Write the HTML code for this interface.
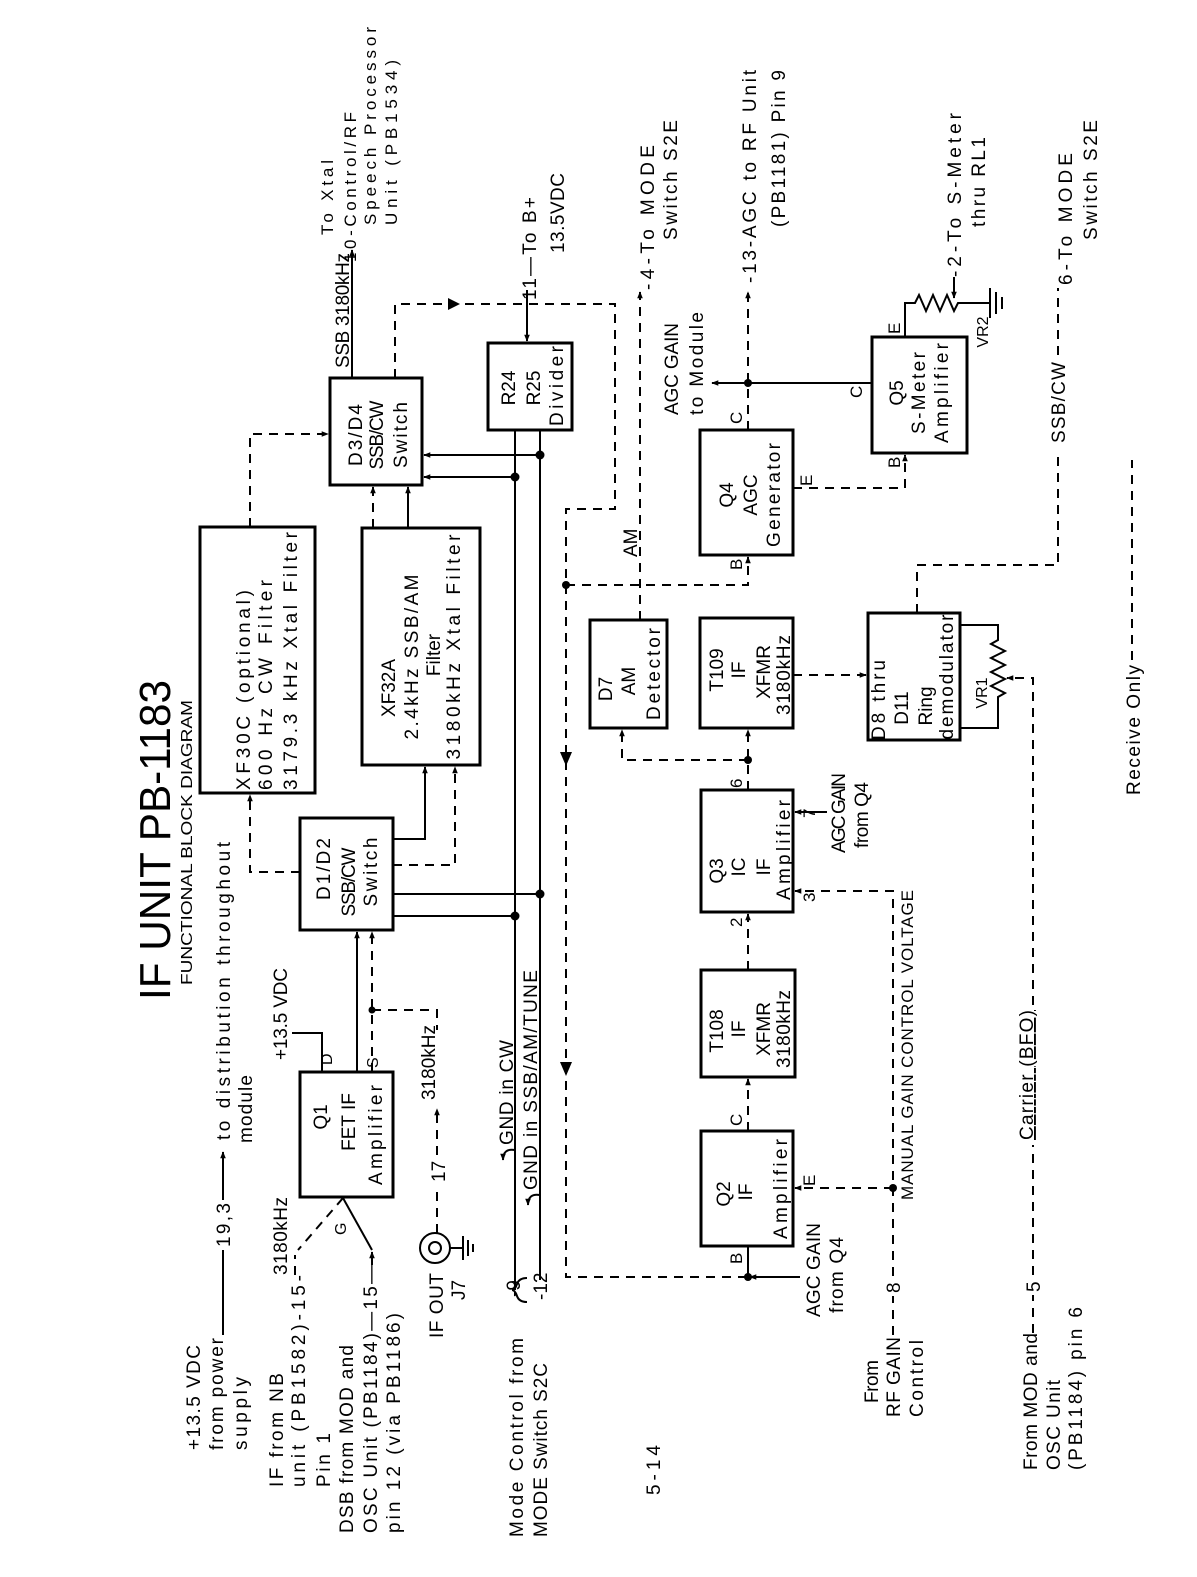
<!DOCTYPE html>
<html><head><meta charset="utf-8"><style>
html,body{margin:0;padding:0;background:#fff;}
svg{display:block;}
text{font-family:"Liberation Sans",sans-serif;font-size:19px;fill:#000;}
</style></head><body>
<svg width="1197" height="1577" viewBox="0 0 1197 1577" xmlns="http://www.w3.org/2000/svg">
<defs>
<marker id="a" viewBox="0 0 10 10" refX="9" refY="5" markerWidth="7" markerHeight="7" orient="auto" markerUnits="userSpaceOnUse"><path d="M0,1 L10,5 L0,9 Z" fill="#000"/></marker>
</defs>
<rect width="1197" height="1577" fill="#fff"/>
<g fill="none" stroke="#000" stroke-width="3">
<rect x="200" y="527" width="115" height="266"/>
<rect x="300" y="818" width="93" height="112"/>
<rect x="362" y="528" width="118" height="237"/>
<rect x="330" y="378" width="92" height="107"/>
<rect x="488" y="343" width="84" height="87"/>
<rect x="300" y="1072" width="93" height="125"/>
<rect x="701" y="1131" width="92" height="115"/>
<rect x="701" y="970" width="94" height="107"/>
<rect x="701" y="790" width="92" height="122"/>
<rect x="700" y="618" width="93" height="110"/>
<rect x="590" y="620" width="77" height="108"/>
<rect x="700" y="430" width="93" height="125"/>
<rect x="868" y="613" width="92" height="127"/>
<rect x="872" y="337" width="95" height="116"/>
</g>
<g fill="none" stroke="#000" stroke-width="2">
<path d="M223 1335 V1250"/><path d="M223 1200 V1152" marker-end="url(#a)"/>
<path d="M292 1033 H322 V1072"/>
<path d="M357 1072 V932" marker-end="url(#a)"/>
<path d="M343 1198 L372 1250"/><path d="M372 1265 V1252" marker-end="url(#a)"/>
<path d="M393 839 H425 V767" marker-end="url(#a)"/>
<path d="M393 894 H540"/><path d="M393 916 H515"/>
<path d="M515 430 V1280"/><path d="M540 430 V1270"/>
<path d="M408 528 V487" marker-end="url(#a)"/>
<path d="M352 378 V250" marker-end="url(#a)"/>
<path d="M527 290 V341" marker-end="url(#a)"/>
<path d="M540 455 H424" marker-end="url(#a)"/>
<path d="M515 477 H424" marker-end="url(#a)"/>
<path d="M872 383 H712" marker-end="url(#a)"/>
<path d="M905 337 V303 H915 l4 -8 l7 16 l7 -16 l7 16 l7 -16 l7 16 l4 -8 H990"/>
<path d="M990 288 V318 M996 292 V314 M1002 297 V309"/>
<path d="M954 277 V298" marker-end="url(#a)"/>
<path d="M960 625 H998 V640 l-7 4 l14 7 l-14 7 l14 7 l-14 7 l14 7 l-14 7 l14 7 l-7 4 V728 H960"/>
<path d="M827 812 H795" marker-end="url(#a)"/>
<path d="M800 1277 H750" marker-end="url(#a)"/><path d="M748 1277 V1246"/>
<circle cx="435" cy="1248" r="15"/><circle cx="435" cy="1248" r="6"/>
<path d="M450 1248 H463 M463 1236 V1260 M468 1240 V1256 M473 1244 V1252"/>
<path d="M515 1280 V1290 M540 1270 V1280"/>
<path d="M527 1302 q-8 0 -10 -6 q-2 -6 -5 -6 q3 0 5 -6 q2 -6 10 -6"/>
<path d="M515 1150 q-12 -2 -12 10" marker-end="url(#a)"/>
<path d="M540 1195 q-12 -2 -12 10" marker-end="url(#a)"/>
</g>
<g fill="none" stroke="#000" stroke-width="2" stroke-dasharray="9,7">
<path d="M343 1198 L298 1250"/><path d="M295 1275 V1255"/>
<path d="M372 1072 V932" marker-end="url(#a)"/>
<path d="M372 1010 H437 V1030"/>
<path d="M437 1233 V1185"/><path d="M437 1155 V1109" marker-end="url(#a)"/>
<path d="M393 865 H455 V767" marker-end="url(#a)"/>
<path d="M300 872 H250 V795" marker-end="url(#a)"/>
<path d="M373 528 V487" marker-end="url(#a)"/>
<path d="M250 527 V434 H328" marker-end="url(#a)"/>
<path d="M395 378 V304 H615 V509 H566 V1277 H748"/>
<path d="M640 620 V292" marker-end="url(#a)"/>
<path d="M566 585 H748 V557" marker-end="url(#a)"/>
<path d="M748 430 V292" marker-end="url(#a)"/>
<path d="M793 488 H905 V455" marker-end="url(#a)"/>
<path d="M748 790 V730" marker-end="url(#a)"/>
<path d="M748 760 H622 V730" marker-end="url(#a)"/>
<path d="M793 675 H866" marker-end="url(#a)"/>
<path d="M917 613 V565 H1058 V450"/><path d="M1058 355 V288"/>
<path d="M1132 660 V460"/>
<path d="M1033 1333 V1295"/><path d="M1033 1275 V1145"/><path d="M1033 1005 V678 H1007" marker-end="url(#a)"/>
<path d="M893 1335 V1296"/><path d="M893 1276 V891 H795" marker-end="url(#a)"/>
<path d="M893 1188 H795" marker-end="url(#a)"/>
<path d="M748 1131 V1079" marker-end="url(#a)"/>
<path d="M748 970 V914" marker-end="url(#a)"/>
</g>
<g fill="#000">
<circle cx="372" cy="1010" r="3.5"/><circle cx="540" cy="894" r="4.5"/><circle cx="515" cy="916" r="4.5"/>
<circle cx="540" cy="455" r="4.5"/><circle cx="515" cy="477" r="4.5"/><circle cx="566" cy="585" r="4"/>
<circle cx="748" cy="383" r="4"/><circle cx="748" cy="760" r="4"/><circle cx="748" cy="1277" r="4"/>
<circle cx="893" cy="1188" r="4"/>
<path d="M448 298 L460 304 L448 310Z"/><path d="M560 752 L566 766 L572 752Z"/><path d="M560 1062 L566 1076 L572 1062Z"/>
</g>
<g>
<text transform="translate(170,1000) rotate(-90)" style="font-size:44px" textLength="320" lengthAdjust="spacingAndGlyphs">IF UNIT PB-1183</text>
<text transform="translate(192,985) rotate(-90)" style="font-size:16px" textLength="285" lengthAdjust="spacingAndGlyphs">FUNCTIONAL BLOCK DIAGRAM</text>

<text transform="translate(200,1450) rotate(-90)" textLength="105">+13.5 VDC</text>
<text transform="translate(223,1450) rotate(-90)" textLength="112">from power</text>
<text transform="translate(230,1247) rotate(-90)" textLength="44">19,3</text>
<text transform="translate(230,1140) rotate(-90)" textLength="298">to distribution throughout</text>
<text transform="translate(252,1143) rotate(-90)" textLength="68">module</text>
<text transform="translate(247,1450) rotate(-90)" textLength="73">supply</text>
<text transform="translate(287,1060) rotate(-90)" textLength="92">+13.5 VDC</text>
<text transform="translate(283,1487) rotate(-90)" textLength="114">IF from NB</text>
<text transform="translate(287,1275) rotate(-90)" textLength="78">3180kHz</text>
<text transform="translate(305,1487) rotate(-90)" textLength="212">unit (PB1582)-15-</text>
<text transform="translate(330,1487) rotate(-90)" textLength="54">Pin 1</text>
<text transform="translate(353,1533) rotate(-90)" textLength="188">DSB from MOD and</text>
<text transform="translate(377,1533) rotate(-90)" textLength="268">OSC Unit (PB1184)—15—</text>
<text transform="translate(400,1533) rotate(-90)" textLength="220">pin 12 (via PB1186)</text>
<text transform="translate(443,1338) rotate(-90)" textLength="65">IF OUT</text>
<text transform="translate(465,1300) rotate(-90)">J7</text>
<text transform="translate(445,1182) rotate(-90)">17</text>
<text transform="translate(435,1100) rotate(-90)" textLength="75">3180kHz</text>
<text transform="translate(523,1537) rotate(-90)" textLength="199">Mode Control from</text>
<text transform="translate(547,1537) rotate(-90)" textLength="174">MODE Switch S2C</text>
<text transform="translate(520,1297) rotate(-90)">-9</text>
<text transform="translate(547,1300) rotate(-90)">-12</text>
<text transform="translate(513,1145) rotate(-90)" textLength="105">GND in CW</text>
<text transform="translate(537,1190) rotate(-90)" textLength="220">GND in SSB/AM/TUNE</text>
<text transform="translate(660,1495) rotate(-90)" textLength="50">5-14</text>
<text transform="translate(332,1065) rotate(-90)" style="font-size:16px">D</text>
<text transform="translate(378,1068) rotate(-90)" style="font-size:16px">S</text>
<text transform="translate(346,1235) rotate(-90)" style="font-size:16px">G</text>

<text transform="translate(327,1117) rotate(-90)" text-anchor="middle">Q1</text>
<text transform="translate(355,1122) rotate(-90)" text-anchor="middle">FET IF</text>
<text transform="translate(382,1135) rotate(-90)" text-anchor="middle" textLength="100">Amplifier</text>

<text transform="translate(250,790) rotate(-90)" textLength="200">XF30C (optional)</text>
<text transform="translate(272,790) rotate(-90)" textLength="210">600 Hz CW Filter</text>
<text transform="translate(297,790) rotate(-90)" textLength="258">3179.3 kHz Xtal Filter</text>
<text transform="translate(395,688) rotate(-90)" text-anchor="middle">XF32A</text>
<text transform="translate(418,657) rotate(-90)" text-anchor="middle" textLength="165">2.4kHz SSB/AM</text>
<text transform="translate(440,655) rotate(-90)" text-anchor="middle">Filter</text>
<text transform="translate(460,647) rotate(-90)" text-anchor="middle" textLength="225">3180kHz Xtal Filter</text>
<text transform="translate(330,869) rotate(-90)" text-anchor="middle" textLength="62">D1/D2</text>
<text transform="translate(355,882) rotate(-90)" text-anchor="middle" textLength="69">SSB/CW</text>
<text transform="translate(377,872) rotate(-90)" text-anchor="middle" textLength="69">Switch</text>
<text transform="translate(362,435) rotate(-90)" text-anchor="middle" textLength="62">D3/D4</text>
<text transform="translate(383,435) rotate(-90)" text-anchor="middle" textLength="69">SSB/CW</text>
<text transform="translate(407,435) rotate(-90)" text-anchor="middle" textLength="66">Switch</text>
<text transform="translate(515,388) rotate(-90)" text-anchor="middle">R24</text>
<text transform="translate(540,388) rotate(-90)" text-anchor="middle">R25</text>
<text transform="translate(563,386) rotate(-90)" text-anchor="middle" textLength="80">Divider</text>

<text transform="translate(349,368) rotate(-90)" textLength="115">SSB 3180kHz</text>
<text transform="translate(333,235) rotate(-90)" textLength="75" style="font-size:17px">To Xtal</text>
<text transform="translate(356,262) rotate(-90)" textLength="150" style="font-size:17px">10-Control/RF</text>
<text transform="translate(376,225) rotate(-90)" textLength="198" style="font-size:17px">Speech Processor</text>
<text transform="translate(397,225) rotate(-90)" textLength="165" style="font-size:17px">Unit (PB1534)</text>
<text transform="translate(536,300) rotate(-90)" textLength="103">11—To B+</text>
<text transform="translate(564,253) rotate(-90)" textLength="80">13.5VDC</text>
<text transform="translate(654,290) rotate(-90)" textLength="145">-4-To MODE</text>
<text transform="translate(677,240) rotate(-90)" textLength="120">Switch S2E</text>
<text transform="translate(637,557) rotate(-90)">AM</text>
<text transform="translate(678,415) rotate(-90)" textLength="92">AGC GAIN</text>
<text transform="translate(703,415) rotate(-90)" textLength="103">to Module</text>
<text transform="translate(756,283) rotate(-90)" textLength="213">-13-AGC to RF Unit</text>
<text transform="translate(785,227) rotate(-90)" textLength="157">(PB1181) Pin 9</text>
<text transform="translate(961,277) rotate(-90)" textLength="164">-2-To S-Meter</text>
<text transform="translate(985,227) rotate(-90)" textLength="90">thru RL1</text>
<text transform="translate(1065,443) rotate(-90)" textLength="81">SSB/CW</text>
<text transform="translate(1072,285) rotate(-90)" textLength="132">6-To MODE</text>
<text transform="translate(1097,240) rotate(-90)" textLength="120">Switch S2E</text>
<text transform="translate(1140,795) rotate(-90)" textLength="130">Receive Only</text>

<text transform="translate(733,495) rotate(-90)" text-anchor="middle">Q4</text>
<text transform="translate(757,495) rotate(-90)" text-anchor="middle">AGC</text>
<text transform="translate(780,495) rotate(-90)" text-anchor="middle" textLength="104">Generator</text>
<text transform="translate(903,393) rotate(-90)" text-anchor="middle">Q5</text>
<text transform="translate(925,393) rotate(-90)" text-anchor="middle" textLength="82">S-Meter</text>
<text transform="translate(948,393) rotate(-90)" text-anchor="middle" textLength="100">Amplifier</text>
<text transform="translate(612,689) rotate(-90)" text-anchor="middle">D7</text>
<text transform="translate(635,681) rotate(-90)" text-anchor="middle">AM</text>
<text transform="translate(660,674) rotate(-90)" text-anchor="middle" textLength="92">Detector</text>
<text transform="translate(723,670) rotate(-90)" text-anchor="middle">T109</text>
<text transform="translate(745,670) rotate(-90)" text-anchor="middle">IF</text>
<text transform="translate(770,672) rotate(-90)" text-anchor="middle">XFMR</text>
<text transform="translate(790,675) rotate(-90)" text-anchor="middle" textLength="80">3180kHz</text>
<text transform="translate(885,700) rotate(-90)" text-anchor="middle" textLength="80">D8 thru</text>
<text transform="translate(908,708) rotate(-90)" text-anchor="middle">D11</text>
<text transform="translate(932,706) rotate(-90)" text-anchor="middle">Ring</text>
<text transform="translate(953,677) rotate(-90)" text-anchor="middle" textLength="125">demodulator</text>
<text transform="translate(987,693) rotate(-90)" text-anchor="middle" style="font-size:16px">VR1</text>
<text transform="translate(988,332) rotate(-90)" text-anchor="middle" style="font-size:16px">VR2</text>
<text transform="translate(723,871) rotate(-90)" text-anchor="middle">Q3</text>
<text transform="translate(745,867) rotate(-90)" text-anchor="middle">IC</text>
<text transform="translate(770,867) rotate(-90)" text-anchor="middle">IF</text>
<text transform="translate(790,850) rotate(-90)" text-anchor="middle" textLength="100">Amplifier</text>
<text transform="translate(723,1031) rotate(-90)" text-anchor="middle">T108</text>
<text transform="translate(745,1029) rotate(-90)" text-anchor="middle">IF</text>
<text transform="translate(770,1029) rotate(-90)" text-anchor="middle">XFMR</text>
<text transform="translate(790,1029) rotate(-90)" text-anchor="middle" textLength="78">3180kHz</text>
<text transform="translate(730,1194) rotate(-90)" text-anchor="middle">Q2</text>
<text transform="translate(752,1192) rotate(-90)" text-anchor="middle">IF</text>
<text transform="translate(787,1189) rotate(-90)" text-anchor="middle" textLength="100">Amplifier</text>

<text transform="translate(742,1126) rotate(-90)" style="font-size:17px">C</text>
<text transform="translate(742,1264) rotate(-90)" style="font-size:17px">B</text>
<text transform="translate(815,1186) rotate(-90)" style="font-size:17px">E</text>
<text transform="translate(742,927) rotate(-90)" style="font-size:17px">2</text>
<text transform="translate(742,788) rotate(-90)" style="font-size:17px">6</text>
<text transform="translate(815,818) rotate(-90)" style="font-size:17px">7</text>
<text transform="translate(815,902) rotate(-90)" style="font-size:17px">3</text>
<text transform="translate(742,424) rotate(-90)" style="font-size:17px">C</text>
<text transform="translate(742,570) rotate(-90)" style="font-size:17px">B</text>
<text transform="translate(812,486) rotate(-90)" style="font-size:17px">E</text>
<text transform="translate(862,398) rotate(-90)" style="font-size:17px">C</text>
<text transform="translate(900,334) rotate(-90)" style="font-size:17px">E</text>
<text transform="translate(900,468) rotate(-90)" style="font-size:17px">B</text>

<text transform="translate(845,853) rotate(-90)" textLength="80">AGC GAIN</text>
<text transform="translate(868,848) rotate(-90)" textLength="66">from Q4</text>
<text transform="translate(820,1317) rotate(-90)" textLength="94">AGC GAIN</text>
<text transform="translate(843,1313) rotate(-90)" textLength="76">from Q4</text>
<text transform="translate(913,1200) rotate(-90)" textLength="310" style="font-size:17px">MANUAL GAIN CONTROL VOLTAGE</text>
<text transform="translate(900,1293) rotate(-90)">8</text>
<text transform="translate(878,1403) rotate(-90)" textLength="43">From</text>
<text transform="translate(900,1417) rotate(-90)" textLength="80">RF GAIN</text>
<text transform="translate(923,1417) rotate(-90)" textLength="77">Control</text>
<text transform="translate(1033,1140) rotate(-90)" textLength="130" text-decoration="underline">Carrier (BFO)</text>
<text transform="translate(1037,1470) rotate(-90)" textLength="137">From MOD and</text>
<text transform="translate(1040,1292) rotate(-90)">5</text>
<text transform="translate(1060,1470) rotate(-90)" textLength="90">OSC Unit</text>
<text transform="translate(1082,1470) rotate(-90)" textLength="163">(PB1184) pin 6</text>
</g>
</svg>
</body></html>
